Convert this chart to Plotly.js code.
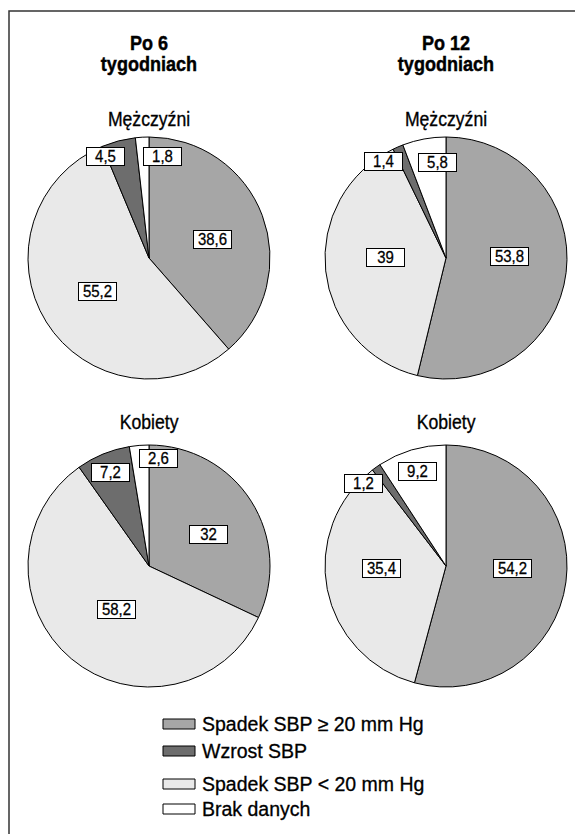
<!DOCTYPE html>
<html>
<head>
<meta charset="utf-8">
<script src="https://cdn.plot.ly/plotly-3.0.1.min.js"></script>
<style>
  html, body { margin: 0; padding: 0; background: #ffffff; }
  #chart { width: 575px; height: 834px; }
</style>
</head>
<body>
<div id="chart"></div>
<script>
// ---- Data (legend order) ----
const categories = ['Spadek SBP ≥ 20 mm Hg', 'Wzrost SBP', 'Spadek SBP < 20 mm Hg', 'Brak danych'];
const menWeek6   = [38.6, 4.5, 55.2, 1.8];
const menWeek12  = [53.8, 1.4, 39, 5.8];
const womenWeek6 = [32, 7.2, 58.2, 2.6];
const womenWeek12 = [54.2, 1.2, 35.4, 9.2];
const columnTitles = [['Po 6', 'tygodniach'], ['Po 12', 'tygodniach']];
const groupTitles = ['Mężczyźni', 'Kobiety'];

// ---- Styling / layout ----
const W = 575, H = 834;
const FONT = '"Liberation Sans", Arial, Helvetica, sans-serif';
const colors = ['#a6a6a6', '#6d6d6d', '#e9e9e9', '#ffffff'];
const sliceOrder = [0, 2, 1, 3];   // clockwise drawing order from 12 o'clock
const R = 121;
const colX = [149, 446];
const rowY = [258, 566];
const pies = [
  {vals: menWeek6,    cx: colX[0], cy: rowY[0], nudge: [[1,5],[-18,-3],[5,-2],[19,0]]},
  {vals: menWeek12,   cx: colX[1], cy: rowY[0], nudge: [[-3,-9],[-22,-3],[6,-8],[10,4]]},
  {vals: womenWeek6,  cx: colX[0], cy: rowY[1], nudge: [[3,4],[0,1],[10,-8],[18,-6]]},
  {vals: womenWeek12, cx: colX[1], cy: rowY[1], nudge: [[1,-6],[-24,0],[1,-10],[0,3]]}
];

const px = x => x / W;
const py = y => 1 - y / H;

const data = [];
const annotations = [];
const annStyle = [];
const shapes = [];

function addAnn(a, st) { annotations.push(a); annStyle.push(st); }

pies.forEach(p => {
  const vals = sliceOrder.map(i => p.vals[i]);
  data.push({
    type: 'pie',
    values: vals,
    labels: sliceOrder.map(i => categories[i]),
    marker: { colors: sliceOrder.map(i => colors[i]), line: { color: '#000000', width: 1 } },
    sort: false,
    direction: 'clockwise',
    rotation: 0,
    textinfo: 'none',
    hoverinfo: 'label+value',
    showlegend: false,
    domain: { x: [px(p.cx - R), px(p.cx + R)], y: [py(p.cy + R), py(p.cy - R)] }
  });
  // value labels in boxes, placed at slice mid-angle
  const total = vals.reduce((a, b) => a + b, 0);
  let cum = 0;
  sliceOrder.forEach((ci, k) => {
    const v = vals[k];
    const mid = (cum + v / 2) / total * 2 * Math.PI;
    cum += v;
    const f = v >= 15 ? 0.55 : 0.84;
    const x = p.cx + f * R * Math.sin(mid) + p.nudge[ci][0];
    const y = p.cy - f * R * Math.cos(mid) + p.nudge[ci][1];
    addAnn({
      xref: 'paper', yref: 'paper', x: px(x), y: py(y),
      xanchor: 'center', yanchor: 'middle', showarrow: false,
      text: String(v).replace('.', ','),
      font: { family: FONT, size: 17, color: '#000' },
      bgcolor: '#ffffff', bordercolor: '#000000', borderwidth: 1, borderpad: 0,
      width: 37, height: 17
    }, {s: 0.88, stroke: 0.3});
  });
});

// column titles (bold, two lines in one text; line gap tightened after render)
const colTitleY = 56.4;
columnTitles.forEach((lines, c) => {
  addAnn({
    xref: 'paper', yref: 'paper', x: px(colX[c]), y: py(colTitleY),
    xanchor: 'center', yanchor: 'middle', showarrow: false,
    text: lines.map(t => '<b>' + t + '</b>').join('<br>'),
    font: { family: FONT, size: 21, color: '#000' }
  }, {s: 0.86, stroke: 0.45, tight: true});
});

// group titles
const groupTitleY = [118.7, 421];
groupTitles.forEach((t, g) => {
  colX.forEach(cx => {
    addAnn({
      xref: 'paper', yref: 'paper', x: px(cx), y: py(groupTitleY[g]),
      xanchor: 'center', yanchor: 'middle', showarrow: false,
      text: t, font: { family: FONT, size: 21, color: '#000' }
    }, {s: 0.84, stroke: 0.35});
  });
});

// custom legend
const legendRowY = [724, 751, 784, 809];
categories.forEach((c, i) => {
  const yc = legendRowY[i];
  shapes.push({
    type: 'rect', xref: 'paper', yref: 'paper',
    x0: px(163), x1: px(195), y0: py(yc + 5), y1: py(yc - 5),
    fillcolor: colors[i], line: { color: '#000', width: 1 }
  });
  addAnn({
    xref: 'paper', yref: 'paper', x: px(200), y: py(yc),
    xanchor: 'left', yanchor: 'middle', showarrow: false,
    text: c.replace('<', '&lt;'), font: { family: FONT, size: 19.5, color: '#000' }
  }, {s: 1, stroke: 0.3});
});

// outer frame
shapes.push({
  type: 'rect', xref: 'paper', yref: 'paper',
  x0: px(9), x1: 1.02, y0: -0.02, y1: py(11),
  line: { color: '#333333', width: 1.5 }, fillcolor: 'rgba(0,0,0,0)'
});

const layout = {
  width: W, height: H,
  margin: { l: 0, r: 0, t: 0, b: 0 },
  paper_bgcolor: '#ffffff',
  showlegend: false,
  annotations: annotations,
  shapes: shapes
};

Plotly.newPlot('chart', data, layout, { displayModeBar: false, staticPlot: true }).then(gd => {
  // narrow and darken the type to mimic the condensed face of the original
  gd.querySelectorAll('g.annotation').forEach(g => {
    const st = annStyle[+g.getAttribute('data-index')];
    const t = g.querySelector('text.annotation-text');
    if (!t || !st) return;
    if (st.tight) {
      t.querySelectorAll('tspan.line').forEach(ln => {
        const dy = ln.getAttribute('dy');
        if (dy && /em$/.test(dy) && parseFloat(dy) > 0) {
          ln.setAttribute('dy', (parseFloat(dy) / 1.3) + 'em');
        }
      });
    }
    if (st.s !== 1) {
      t.style.transformBox = 'fill-box';
      t.style.transformOrigin = 'center';
      t.style.transform = 'scaleX(' + st.s + ')';
    }
    if (st.stroke) {
      t.style.stroke = '#000';
      t.style.strokeWidth = st.stroke + 'px';
    }
  });
});
</script>
</body>
</html>
